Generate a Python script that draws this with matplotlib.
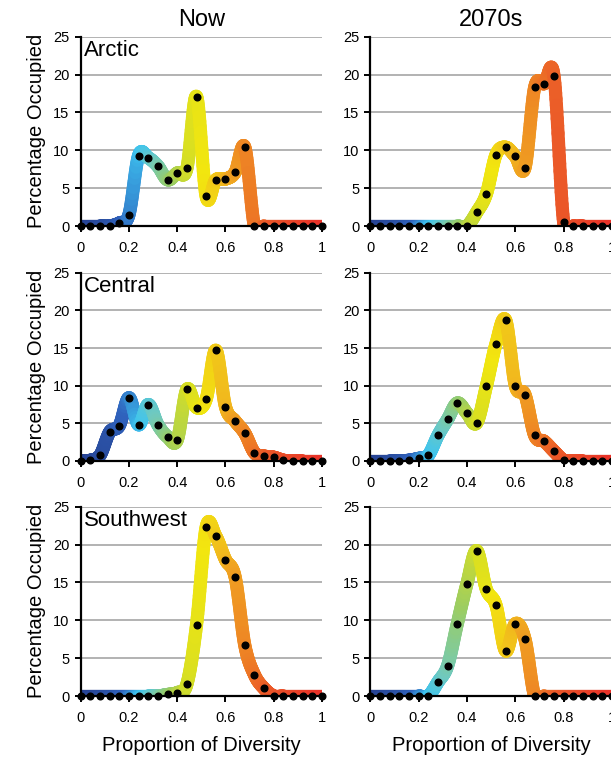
import numpy as np
import matplotlib
matplotlib.use("Agg")
import matplotlib.pyplot as plt
from matplotlib.collections import LineCollection
from matplotlib.colors import LinearSegmentedColormap

plt.rcParams['font.family'] = ['Liberation Sans', 'DejaVu Sans']

# ---------------- data ----------------
diversity = [0.00, 0.04, 0.08, 0.12, 0.16, 0.20, 0.24, 0.28, 0.32, 0.36, 0.40, 0.44, 0.48,
             0.52, 0.56, 0.60, 0.64, 0.68, 0.72, 0.76, 0.80, 0.84, 0.88, 0.92, 0.96, 1.00]

arctic_now = [0, 0, 0, 0, 0.4, 1.5, 9.3, 9.0, 7.9, 6.1, 7.0, 7.6, 17.1,
              3.9, 6.1, 6.2, 7.1, 10.4, 0, 0, 0, 0, 0, 0, 0, 0]
arctic_2070 = [0, 0, 0, 0, 0, 0, 0, 0, 0, 0, 0, 1.8, 4.2,
               9.4, 10.4, 9.2, 7.7, 18.3, 18.8, 19.8, 0.5, 0, 0, 0, 0, 0]
central_now = [0, 0.1, 0.75, 3.85, 4.7, 8.4, 4.8, 7.5, 4.8, 3.2, 2.8, 9.5, 7.1,
               8.2, 14.7, 7.2, 5.3, 3.7, 1.1, 0.65, 0.5, 0.1, 0, 0, 0, 0]
central_2070 = [0, 0, 0, 0, 0.1, 0.35, 0.75, 3.4, 5.55, 7.7, 6.35, 5.05, 9.9,
                15.55, 18.7, 10.0, 8.8, 3.4, 2.6, 1.3, 0.1, 0, 0, 0, 0, 0]
southwest_now = [0, 0, 0, 0, 0, 0, 0, 0, 0, 0.2, 0.45, 1.55, 9.4,
                 22.3, 21.1, 18.0, 15.7, 6.7, 2.8, 1.0, 0, 0, 0, 0, 0, 0]
southwest_2070 = [0, 0, 0, 0, 0, 0, 0, 1.85, 4.0, 9.55, 14.85, 19.2, 14.1,
                  12.0, 5.95, 9.55, 7.5, 0, 0, 0, 0, 0, 0, 0, 0, 0]

regions = ["Arctic", "Central", "Southwest"]
periods = ["Now", "2070s"]
series = [[arctic_now, arctic_2070],
          [central_now, central_2070],
          [southwest_now, southwest_2070]]

y_ticks = [0, 5, 10, 15, 20, 25]
x_ticks = [0, 0.2, 0.4, 0.6, 0.8, 1]
x_ticklabels = ["0", "0.2", "0.4", "0.6", "0.8", "1"]

# ---------------- style ----------------
cmap = LinearSegmentedColormap.from_list("div", [
    (0.00, "#264091"), (0.12, "#2b52a6"), (0.18, "#2f62bd"), (0.25, "#3dc4f0"),
    (0.31, "#6fc9c0"), (0.38, "#9ccd62"), (0.45, "#d8df22"), (0.51, "#f2e60f"),
    (0.60, "#f1b81e"), (0.68, "#ee8824"), (0.78, "#eb5a28"), (1.00, "#e83228")])


def catmull_rom(x, y, n=24):
    x = np.asarray(x, float)
    y = np.asarray(y, float)
    px = np.concatenate([[2 * x[0] - x[1]], x, [2 * x[-1] - x[-2]]])
    py = np.concatenate([[y[0]], y, [y[-1]]])
    xs, ys = [], []
    t = np.linspace(0, 1, n, endpoint=False)
    for i in range(1, len(px) - 2):
        p0, p1, p2, p3 = py[i - 1], py[i], py[i + 1], py[i + 2]
        q0, q1, q2, q3 = px[i - 1], px[i], px[i + 1], px[i + 2]
        t2, t3 = t * t, t * t * t
        ys.append(0.5 * (2 * p1 + (-p0 + p2) * t + (2 * p0 - 5 * p1 + 4 * p2 - p3) * t2
                         + (-p0 + 3 * p1 - 3 * p2 + p3) * t3))
        xs.append(0.5 * (2 * q1 + (-q0 + q2) * t + (2 * q0 - 5 * q1 + 4 * q2 - q3) * t2
                         + (-q0 + 3 * q1 - 3 * q2 + q3) * t3))
    xs.append([x[-1]])
    ys.append([y[-1]])
    return np.concatenate(xs), np.concatenate(ys)


W, H = 611, 757
fig = plt.figure(figsize=(W / 100, H / 100), dpi=100)

col_x = [(80.7, 322.0), (370.3, 612.0)]
row_y = [(36.7, 226.0), (272.7, 461.0), (506.7, 696.0)]

for r in range(3):
    for c in range(2):
        x0, x1 = col_x[c]
        yt, yb = row_y[r]
        ax = fig.add_axes([x0 / W, 1 - yb / H, (x1 - x0) / W, (yb - yt) / H])
        vals = series[r][c]
        sx, sy = catmull_rom(diversity, vals)
        pts = np.column_stack([sx, sy]).reshape(-1, 1, 2)
        segs = np.concatenate([pts[:-1], pts[1:]], axis=1)
        mids = 0.5 * (sx[:-1] + sx[1:])
        lc = LineCollection(segs, colors=cmap(mids), linewidths=9.5,
                            capstyle='round', joinstyle='round', zorder=2)
        ax.add_collection(lc)
        ax.plot(diversity, vals, 'o', color='black', ms=4.8, zorder=4, clip_on=False)

        ax.set_xlim(0, 1)
        ax.set_ylim(0, 25)
        ax.set_yticks(y_ticks)
        ax.set_xticks(x_ticks)
        ax.set_xticklabels(x_ticklabels)
        ax.yaxis.grid(True, color='#a6a6a6', linewidth=1.2, zorder=0)
        ax.set_axisbelow(True)
        for s in ['top', 'right']:
            ax.spines[s].set_visible(False)
        for s in ['left', 'bottom']:
            ax.spines[s].set_linewidth(1.6)
            ax.spines[s].set_color('black')
            ax.spines[s].set_zorder(3)
        ax.tick_params(axis='both', direction='out', length=4, width=1.4,
                       labelsize=10.5, colors='black')
        ax.tick_params(axis='x', pad=7)
        ax.tick_params(axis='y', pad=4)

        if c == 0:
            ax.set_ylabel("Percentage Occupied", fontsize=14.5, labelpad=5)
            ax.text(0.015, 0.98, regions[r], transform=ax.transAxes, fontsize=16,
                    ha='left', va='top')
        if r == 0:
            ax.set_title(periods[c], fontsize=17, pad=8)
        if r == 2:
            ax.set_xlabel("Proportion of Diversity", fontsize=14.5, labelpad=8)

fig.savefig("out.png", dpi=100)
